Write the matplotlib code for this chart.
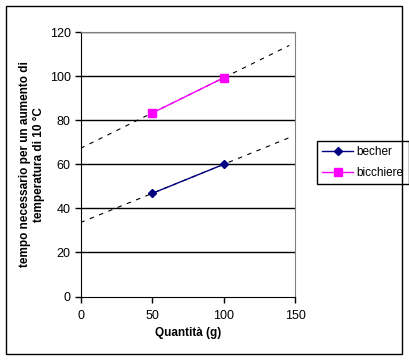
import numpy as np
import matplotlib.pyplot as plt
from matplotlib.patches import Rectangle

plt.rcParams['font.family'] = ['Liberation Sans', 'DejaVu Sans']

quantita = [50, 100]
becher = [46.8, 60.0]
bicchiere = [83.3, 99.3]
trend_x = np.array([0, 146])

fig = plt.figure(figsize=(4.09, 3.6), dpi=100)
W, H = 409, 360
ax = fig.add_axes([80.5 / W, 1 - 296.5 / H, (295 - 80.5) / W, (296.5 - 32.3) / H])

for y in range(20, 121, 20):
    ax.axhline(y, color='black', lw=1, zorder=1)

for vals in (becher, bicchiere):
    m, b = np.polyfit(quantita, vals, 1)
    ax.plot(trend_x, m * trend_x + b, color='black', lw=0.8, ls=(0, (4, 5)), zorder=2)

ax.plot(quantita, becher, color='#000080', marker='D', ms=4.5, lw=1, label='becher', zorder=3)
ax.plot(quantita, bicchiere, color='#FF00FF', marker='s', ms=5.5, lw=1, label='bicchiere', zorder=3)

ax.set_xlim(0, 150)
ax.set_ylim(0, 120)
ax.set_xticks([0, 50, 100, 150])
ax.set_yticks(range(0, 121, 20))
ax.tick_params(direction='out', length=4, labelsize=9, width=1, color='black', pad=3)
ax.tick_params(axis='x', pad=6)
for s in ('top', 'right'):
    ax.spines[s].set_color('#808080')
for s in ('left', 'bottom'):
    ax.spines[s].set_color('black')

ax.set_xlabel('Quantità (g)', fontsize=8.5, fontweight='bold', va='top')
ax.xaxis.set_label_coords(0.5, (296.5 - 327) / 264.2)
ax.set_ylabel('tempo necessario per un aumento di\ntemperatura di 10 °C', fontsize=8.5,
              fontweight='bold', linespacing=1.2)
ax.yaxis.set_label_coords((45 - 80.5) / 214.5, 0.5)

leg = ax.legend(loc='upper left', bbox_to_anchor=(317 / W, 1 - 141 / H), bbox_transform=fig.transFigure,
                fontsize=8.5, frameon=True, fancybox=False, edgecolor='black', framealpha=1,
                handlelength=2.6, borderpad=0.45, labelspacing=0.75, handletextpad=0.3, borderaxespad=0)
leg.get_frame().set_linewidth(1)

fig.patches.append(Rectangle((5.5 / W, 1 - 354 / H), 396.5 / W, 348 / H, transform=fig.transFigure,
                             fill=False, edgecolor='black', lw=1))

fig.savefig('out.png', dpi=100)
